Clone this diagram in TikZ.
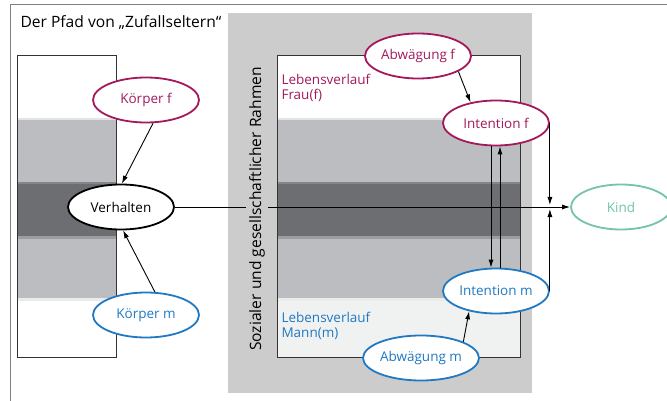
\documentclass[tikz,border=0pt]{standalone}
\usepackage{fontspec}
\setmainfont{Open Sans}
\usetikzlibrary{shapes.geometric,arrows.meta}
\definecolor{fcol}{HTML}{A3195B}
\definecolor{mcol}{HTML}{2079C2}
\definecolor{kcol}{HTML}{74C4A6}
\definecolor{rahmengrau}{HTML}{CCCCCC}
\definecolor{bandhell}{HTML}{BCBDC0}
\definecolor{banddunkel}{HTML}{6D6E71}
\definecolor{mannbg}{HTML}{F0F1F1}
\newcommand{\schrift}{\fontsize{13.5}{14.5}\selectfont}
\newcommand{\titelschrift}{\fontsize{15.6}{16}\selectfont}
\tikzset{
oval/.style = {ellipse, draw, line width = 1.8pt, fill = white, minimum width = 106pt, minimum height = 45pt, inner sep = 0pt, font = \schrift},
pfeil/.style = {line width = 0.9pt, -{Latex[length=8pt,width=5pt]}},
kasten/.style = {line width = 1pt, draw = black!80}
}
\begin{document}
\begin{tikzpicture}[x=1pt,y=-1pt]
%
\useasboundingbox (0,0) rectangle (667,401);
%
\def\boxtop{56}
\def\boxbot{357}
\def\bandlist{118/182/bandhell,182/236/banddunkel,236/298/bandhell}
\def\kantenlist{118/bandhell!40!white,182/banddunkel!70!bandhell,236/banddunkel!40!bandhell,298/bandhell!30!white}
%
% Rahmen und Titel
\draw[line width = 1pt, color = gray] (10,401)--(10,5)--(667,5);
\node[anchor = west, font = \titelschrift] (titel) at (17,23) {Der Pfad von „Zufallseltern“};
\fill[rahmengrau] (228,13) rectangle (532,393);
%
% Kaesten mit Baendern
\fill[white] (17,\boxtop) rectangle (116,\boxbot);
\fill[white] (277,\boxtop) rectangle (520,298);
\fill[mannbg] (277,298) rectangle (520,\boxbot);
\foreach \xa/\xb in {17/116,277/520} {
\foreach \ya/\yb/\c in \bandlist {\fill[\c] (\xa,\ya) rectangle (\xb,\yb);}
\foreach \y/\c in \kantenlist {\fill[\c] (\xa,\y) rectangle (\xb,\y+2.5);}
\draw[kasten] (\xa,\boxtop) rectangle (\xb,\boxbot);
}
%
\node[anchor = west, align = left, text = fcol, font = \schrift] (lvf) at (278,88) {Lebensverlauf\\Frau(f)};
\node[anchor = west, align = left, text = mcol, font = \schrift] (lvm) at (278,326) {Lebensverlauf\\Mann(m)};
%
% Ellipsen
\node[oval, draw = fcol, text = fcol] (kf) at (146,100) {Körper f};
\node[oval] (verh) at (121,207) {Verhalten};
\node[oval, draw = mcol, text = mcol] (km) at (146,315) {Körper m};
\node[oval, draw = fcol, text = fcol] (af) at (418,56) {Abwägung f};
\node[oval, draw = fcol, text = fcol] (if) at (496,123) {Intention f};
\node[oval, draw = mcol, text = mcol] (im) at (496,291) {Intention m};
\node[oval, draw = mcol, text = mcol] (am) at (421,358) {Abwägung m};
\node[oval, draw = kcol, text = kcol, minimum width = 100pt] (kind) at (621,207) {Kind};
%
% Pfeile
\draw[pfeil] (verh.east) -- (kind.west);
\node[rotate = 90, fill = rahmengrau, inner sep = 3pt, font = \titelschrift] (sozial) at (257,209) {Sozialer und gesellschaftlicher Rahmen};
%
\draw[pfeil] (kf.-73) -- (verh.88);
\draw[pfeil] (km.69) -- (verh.-85);
\draw[pfeil] (af.-21) -- (if.141);
\draw[pfeil] (am.21) -- (im.-143);
\draw[pfeil] ([xshift=-5pt]if.south) -- ([xshift=-5pt]im.north);
\draw[pfeil] ([xshift=4pt]im.north) -- ([xshift=4pt]if.south);
\draw[pfeil, shorten >= 2pt] (if.east) -- (if.east |- kind.west);
\draw[pfeil, shorten >= 2pt] (im.east) -- (im.east |- kind.west);
%
\end{tikzpicture}
\end{document}
